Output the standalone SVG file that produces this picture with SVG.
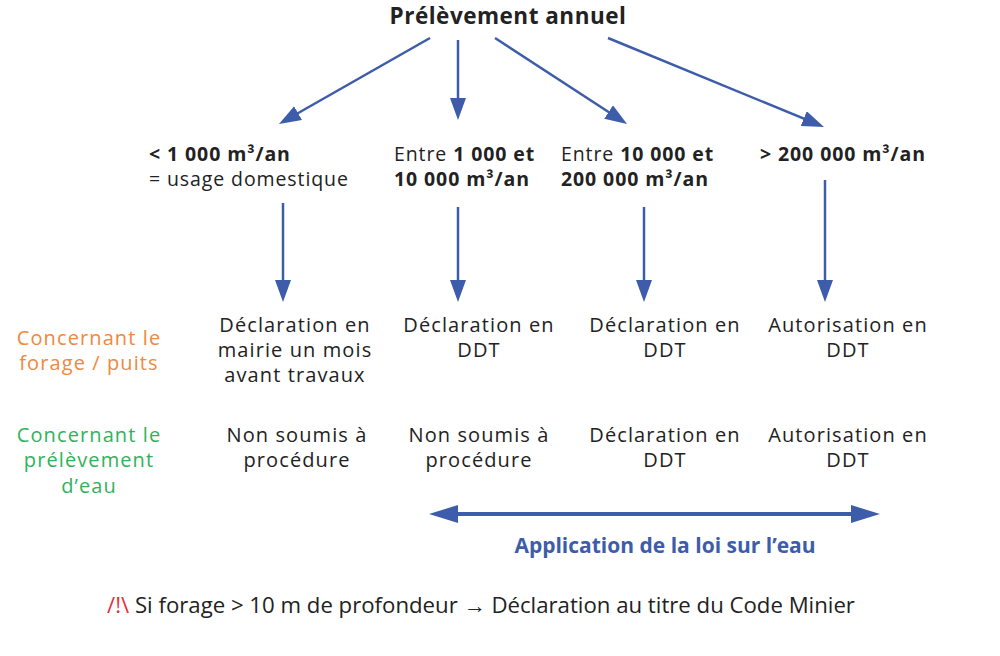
<svg xmlns="http://www.w3.org/2000/svg" width="1000" height="656" viewBox="0 0 1000 656">
<defs>
<style>
text{font-family:"Open Sans","Noto Sans",sans-serif;fill:#222;}
.title{font-size:22.5px;font-weight:700;letter-spacing:0.5px;}
.lvl{font-size:19.5px;letter-spacing:0.9px;}
.b{font-weight:700;}
.cell{font-size:20px;text-anchor:middle;letter-spacing:1.1px;}
.orange{fill:#F0883E;}
.green{fill:#2EB35A;}
.law{font-size:21px;font-weight:700;fill:#3D5DAA;text-anchor:middle;}
.note{font-size:22.2px;}
.red{fill:#E8303A;}
.conn{stroke:#3D5DAA;stroke-width:2.5;fill:none;marker-end:url(#ah);}
.dbl{stroke:#3D5DAA;stroke-width:4;fill:none;marker-end:url(#ahb);marker-start:url(#ahb);}
</style>
<marker id="ah" markerUnits="userSpaceOnUse" markerWidth="22" markerHeight="16" refX="16" refY="8" orient="auto">
<path d="M0,0 L22,8 L0,16 Z" fill="#3D5DAA"/>
</marker>
<marker id="ahb" markerUnits="userSpaceOnUse" markerWidth="29" markerHeight="18" refX="22" refY="9" orient="auto-start-reverse">
<path d="M0,0 L29,9 L0,18 Z" fill="#3D5DAA"/>
</marker>
</defs>
<rect width="1000" height="656" fill="#fff"/>

<g id="title"><text class="title" x="508" y="24" text-anchor="middle">Prélèvement annuel</text></g>

<g id="connectors">
<line class="conn" x1="430" y1="38" x2="284.2" y2="121"/>
<line class="conn" x1="458" y1="40" x2="458" y2="114"/>
<line class="conn" x1="495" y1="38" x2="622" y2="120.7"/>
<line class="conn" x1="608" y1="38" x2="818.5" y2="124.7"/>
<line class="conn" x1="283" y1="203" x2="283" y2="296"/>
<line class="conn" x1="458" y1="207" x2="458" y2="296"/>
<line class="conn" x1="644" y1="207" x2="644" y2="296"/>
<line class="conn" x1="825" y1="180" x2="825" y2="296"/>
<line class="dbl" x1="436" y1="514" x2="873" y2="514"/>
</g>

<g id="range1">
<text class="lvl b" x="149" y="161">&lt; 1 000 m³/an</text>
<text class="lvl" x="149" y="186">= usage domestique</text>
</g>
<g id="range2">
<text class="lvl" x="394" y="161">Entre <tspan class="b">1 000 et</tspan></text>
<text class="lvl b" x="394" y="186">10 000 m³/an</text>
</g>
<g id="range3">
<text class="lvl" x="561" y="161">Entre <tspan class="b">10 000 et</tspan></text>
<text class="lvl b" x="561" y="186">200 000 m³/an</text>
</g>
<g id="range4">
<text class="lvl b" x="760" y="161">&gt; 200 000 m³/an</text>
</g>

<g id="label-forage">
<text class="cell orange" x="89" y="345">Concernant le</text>
<text class="cell orange" x="89" y="370">forage / puits</text>
</g>
<g id="label-prelevement">
<text class="cell green" x="89" y="442">Concernant le</text>
<text class="cell green" x="89" y="467">prélèvement</text>
<text class="cell green" x="89" y="493">d’eau</text>
</g>

<g id="forage1">
<text class="cell" x="295" y="332">Déclaration en</text>
<text class="cell" x="295" y="357">mairie un mois</text>
<text class="cell" x="295" y="382">avant travaux</text>
</g>
<g id="forage2">
<text class="cell" x="479" y="332">Déclaration en</text>
<text class="cell" x="479" y="357">DDT</text>
</g>
<g id="forage3">
<text class="cell" x="665" y="332">Déclaration en</text>
<text class="cell" x="665" y="357">DDT</text>
</g>
<g id="forage4">
<text class="cell" x="848" y="332">Autorisation en</text>
<text class="cell" x="848" y="357">DDT</text>
</g>

<g id="prel1">
<text class="cell" x="297" y="442">Non soumis à</text>
<text class="cell" x="297" y="467">procédure</text>
</g>
<g id="prel2">
<text class="cell" x="479" y="442">Non soumis à</text>
<text class="cell" x="479" y="467">procédure</text>
</g>
<g id="prel3">
<text class="cell" x="665" y="442">Déclaration en</text>
<text class="cell" x="665" y="467">DDT</text>
</g>
<g id="prel4">
<text class="cell" x="848" y="442">Autorisation en</text>
<text class="cell" x="848" y="467">DDT</text>
</g>

<g id="law"><text class="law" x="665" y="553">Application de la loi sur l’eau</text></g>

<g id="note"><text class="note" x="107" y="613"><tspan class="red">/!\</tspan> Si forage &gt; 10 m de profondeur → Déclaration au titre du Code Minier</text></g>
</svg>
